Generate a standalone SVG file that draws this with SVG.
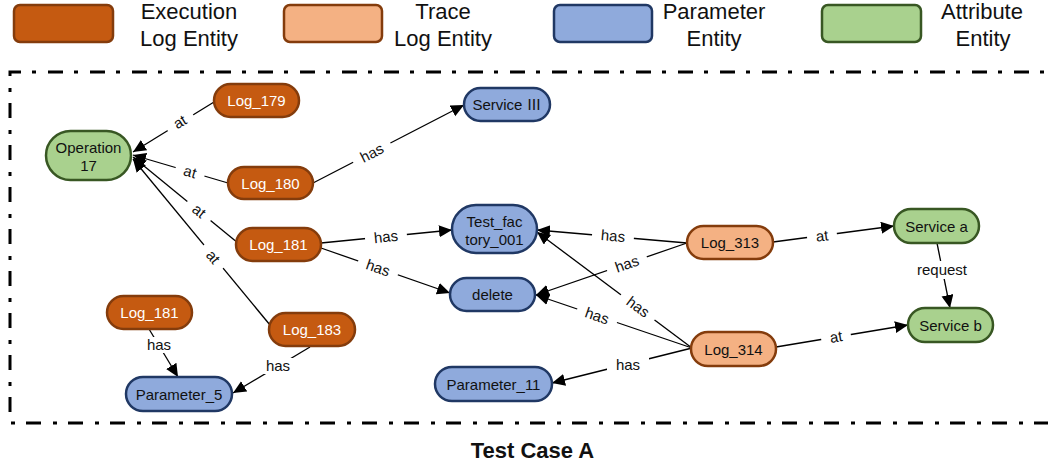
<svg xmlns="http://www.w3.org/2000/svg" width="1048" height="469" viewBox="0 0 1048 469">
<defs>
<marker id="arr" markerUnits="userSpaceOnUse" markerWidth="14" markerHeight="13" refX="13" refY="6" orient="auto">
<path d="M0,0 L13,6 L0,12 Z" fill="#000"/>
</marker>
<style>
text{font-family:"Liberation Sans",Arial,"Noto Sans CJK SC",sans-serif}
.exec{fill:#C55A11;stroke:#843C0C;stroke-width:2.5}
.trace{fill:#F4B183;stroke:#843C0C;stroke-width:2.5}
.param{fill:#8FAADC;stroke:#203864;stroke-width:2.5}
.attr{fill:#A9D18E;stroke:#385723;stroke-width:2.5}
.lg{font-size:22px;fill:#111;text-anchor:middle}
.nt{font-size:15px;fill:#111;text-anchor:middle}
.wt{font-size:15px;fill:#fff;text-anchor:middle}
.e{stroke:#000;stroke-width:1.3;fill:none;marker-end:url(#arr)}
.lb{fill:#fff;stroke:none}
.lt{font-size:15px;fill:#111;text-anchor:middle}
</style>
</defs>

<g id="legend">
<rect class="exec" x="14" y="5" width="99" height="37" rx="6"/>
<text class="lg" x="189" y="19">Execution</text>
<text class="lg" x="189" y="46">Log Entity</text>
<rect class="trace" x="284" y="5" width="98" height="37" rx="6"/>
<text class="lg" x="443" y="19">Trace</text>
<text class="lg" x="443" y="46">Log Entity</text>
<rect class="param" x="554" y="5" width="98" height="37" rx="6"/>
<text class="lg" x="714" y="19">Parameter</text>
<text class="lg" x="714" y="46">Entity</text>
<rect class="attr" x="822" y="5" width="99" height="37" rx="6"/>
<text class="lg" x="982" y="19">Attribute</text>
<text class="lg" x="983" y="46">Entity</text>
</g>

<path id="frame" d="M1060 423 L10 423 L10 72 L1060 72" fill="none" stroke="#000" stroke-width="3" stroke-dasharray="15 11 4 12" stroke-dashoffset="31"/>

<g id="connectors">
<line class="e" x1="214" y1="102" x2="133" y2="152"/>
<line class="e" x1="228" y1="183" x2="133" y2="155"/>
<line class="e" x1="238" y1="243" x2="133" y2="157"/>
<line class="e" x1="270" y1="325" x2="133" y2="159"/>
<line class="e" x1="313" y1="183" x2="464" y2="105"/>
<line class="e" x1="321" y1="243" x2="452" y2="230"/>
<line class="e" x1="321" y1="248" x2="450" y2="293"/>
<line class="e" x1="687" y1="243" x2="537" y2="230"/>
<line class="e" x1="687" y1="243" x2="536" y2="295"/>
<line class="e" x1="692" y1="348" x2="537" y2="232"/>
<line class="e" x1="692" y1="348" x2="536" y2="295"/>
<line class="e" x1="692" y1="348" x2="552" y2="383"/>
<line class="e" x1="773" y1="242" x2="894" y2="226"/>
<line class="e" x1="776" y1="347" x2="908" y2="325"/>
<line class="e" x1="937" y1="243" x2="950" y2="308"/>
<line class="e" x1="149" y1="329" x2="178" y2="377"/>
<line class="e" x1="310" y1="347" x2="233" y2="393"/>

<g transform="translate(180,122) rotate(-31)"><rect class="lb" x="-15" y="-9" width="30" height="18"/><text class="lt" y="5">at</text></g>
<g transform="translate(190,172) rotate(16)"><rect class="lb" x="-15" y="-9" width="30" height="18"/><text class="lt" y="5">at</text></g>
<g transform="translate(199,211) rotate(39)"><rect class="lb" x="-15" y="-9" width="30" height="18"/><text class="lt" y="5">at</text></g>
<g transform="translate(213,257) rotate(50)"><rect class="lb" x="-15" y="-9" width="30" height="18"/><text class="lt" y="5">at</text></g>
<g transform="translate(372,153) rotate(-27)"><rect class="lb" x="-21" y="-9" width="42" height="18"/><text class="lt" y="5">has</text></g>
<g transform="translate(386,237) rotate(-6)"><rect class="lb" x="-21" y="-9" width="42" height="18"/><text class="lt" y="5">has</text></g>
<g transform="translate(378,268) rotate(19)"><rect class="lb" x="-21" y="-9" width="42" height="18"/><text class="lt" y="5">has</text></g>
<g transform="translate(613,236) rotate(5)"><rect class="lb" x="-21" y="-9" width="42" height="18"/><text class="lt" y="5">has</text></g>
<g transform="translate(627,264) rotate(-19)"><rect class="lb" x="-21" y="-9" width="42" height="18"/><text class="lt" y="5">has</text></g>
<g transform="translate(638,307) rotate(37)"><rect class="lb" x="-21" y="-9" width="42" height="18"/><text class="lt" y="5">has</text></g>
<g transform="translate(597,316) rotate(19)"><rect class="lb" x="-21" y="-9" width="42" height="18"/><text class="lt" y="5">has</text></g>
<g transform="translate(628,365)"><rect class="lb" x="-21" y="-9" width="42" height="18"/><text class="lt" y="5">has</text></g>
<g transform="translate(822,236) rotate(-7)"><rect class="lb" x="-15" y="-9" width="30" height="18"/><text class="lt" y="5">at</text></g>
<g transform="translate(836,337) rotate(-9.5)"><rect class="lb" x="-15" y="-9" width="30" height="18"/><text class="lt" y="5">at</text></g>
<g transform="translate(942,270)"><rect class="lb" x="-28" y="-9" width="56" height="18"/><text class="lt" y="5">request</text></g>
<g transform="translate(159,345)"><rect class="lb" x="-17" y="-8" width="34" height="16"/><text class="lt" y="5">has</text></g>
<g transform="translate(278,366)"><rect class="lb" x="-17" y="-8" width="34" height="16"/><text class="lt" y="5">has</text></g>
</g>

<g id="op17"><rect class="attr" x="46" y="131" width="85" height="49" rx="24.5"/><text class="nt" x="88.5" y="153">Operation</text><text class="nt" x="88.5" y="171">17</text></g>
<g id="log179"><rect class="exec" x="214" y="84" width="85" height="33" rx="16.5"/><text class="wt" x="256.5" y="106">Log_179</text></g>
<g id="log180"><rect class="exec" x="228" y="167" width="85" height="32" rx="16"/><text class="wt" x="270.5" y="188.5">Log_180</text></g>
<g id="log181a"><rect class="exec" x="236" y="228" width="85" height="33" rx="16.5"/><text class="wt" x="278.5" y="250">Log_181</text></g>
<g id="log183"><rect class="exec" x="269" y="313" width="86" height="33" rx="16.5"/><text class="wt" x="312" y="335">Log_183</text></g>
<g id="log181b"><rect class="exec" x="107" y="296" width="85" height="33" rx="16.5"/><text class="wt" x="149.5" y="318">Log_181</text></g>
<g id="param5"><rect class="param" x="126" y="377" width="106" height="34" rx="17"/><text class="nt" x="179" y="399.5">Parameter_5</text></g>
<g id="service3"><rect class="param" x="464" y="88" width="86" height="33" rx="16.5"/><text class="nt" x="507" y="110" style="font-family:'Liberation Sans','Noto Sans CJK SC',sans-serif">Service <tspan style="font-family:'Noto Sans CJK SC',sans-serif">Ⅲ</tspan></text></g>
<g id="testfac"><rect class="param" x="452" y="205" width="85" height="48" rx="24"/><text class="nt" x="494.5" y="227">Test_fac</text><text class="nt" x="494.5" y="245">tory_001</text></g>
<g id="delete"><rect class="param" x="450" y="278" width="85" height="33" rx="16.5"/><text class="nt" x="492.5" y="300">delete</text></g>
<g id="param11"><rect class="param" x="435" y="367" width="117" height="34" rx="17"/><text class="nt" x="493.5" y="389.5">Parameter_11</text></g>
<g id="log313"><rect class="trace" x="687" y="226" width="86" height="33" rx="16.5"/><text class="nt" x="730" y="248">Log_313</text></g>
<g id="log314"><rect class="trace" x="691" y="332" width="85" height="34" rx="17"/><text class="nt" x="733.5" y="354.5">Log_314</text></g>
<g id="serviceA"><rect class="attr" x="894" y="209" width="85" height="34" rx="17"/><text class="nt" x="936.5" y="231.5">Service a</text></g>
<g id="serviceB"><rect class="attr" x="908" y="308" width="85" height="34" rx="17"/><text class="nt" x="950.5" y="330.5">Service b</text></g>

<text x="532.5" y="458" font-size="22" font-weight="bold" text-anchor="middle" fill="#111">Test Case A</text>
</svg>
